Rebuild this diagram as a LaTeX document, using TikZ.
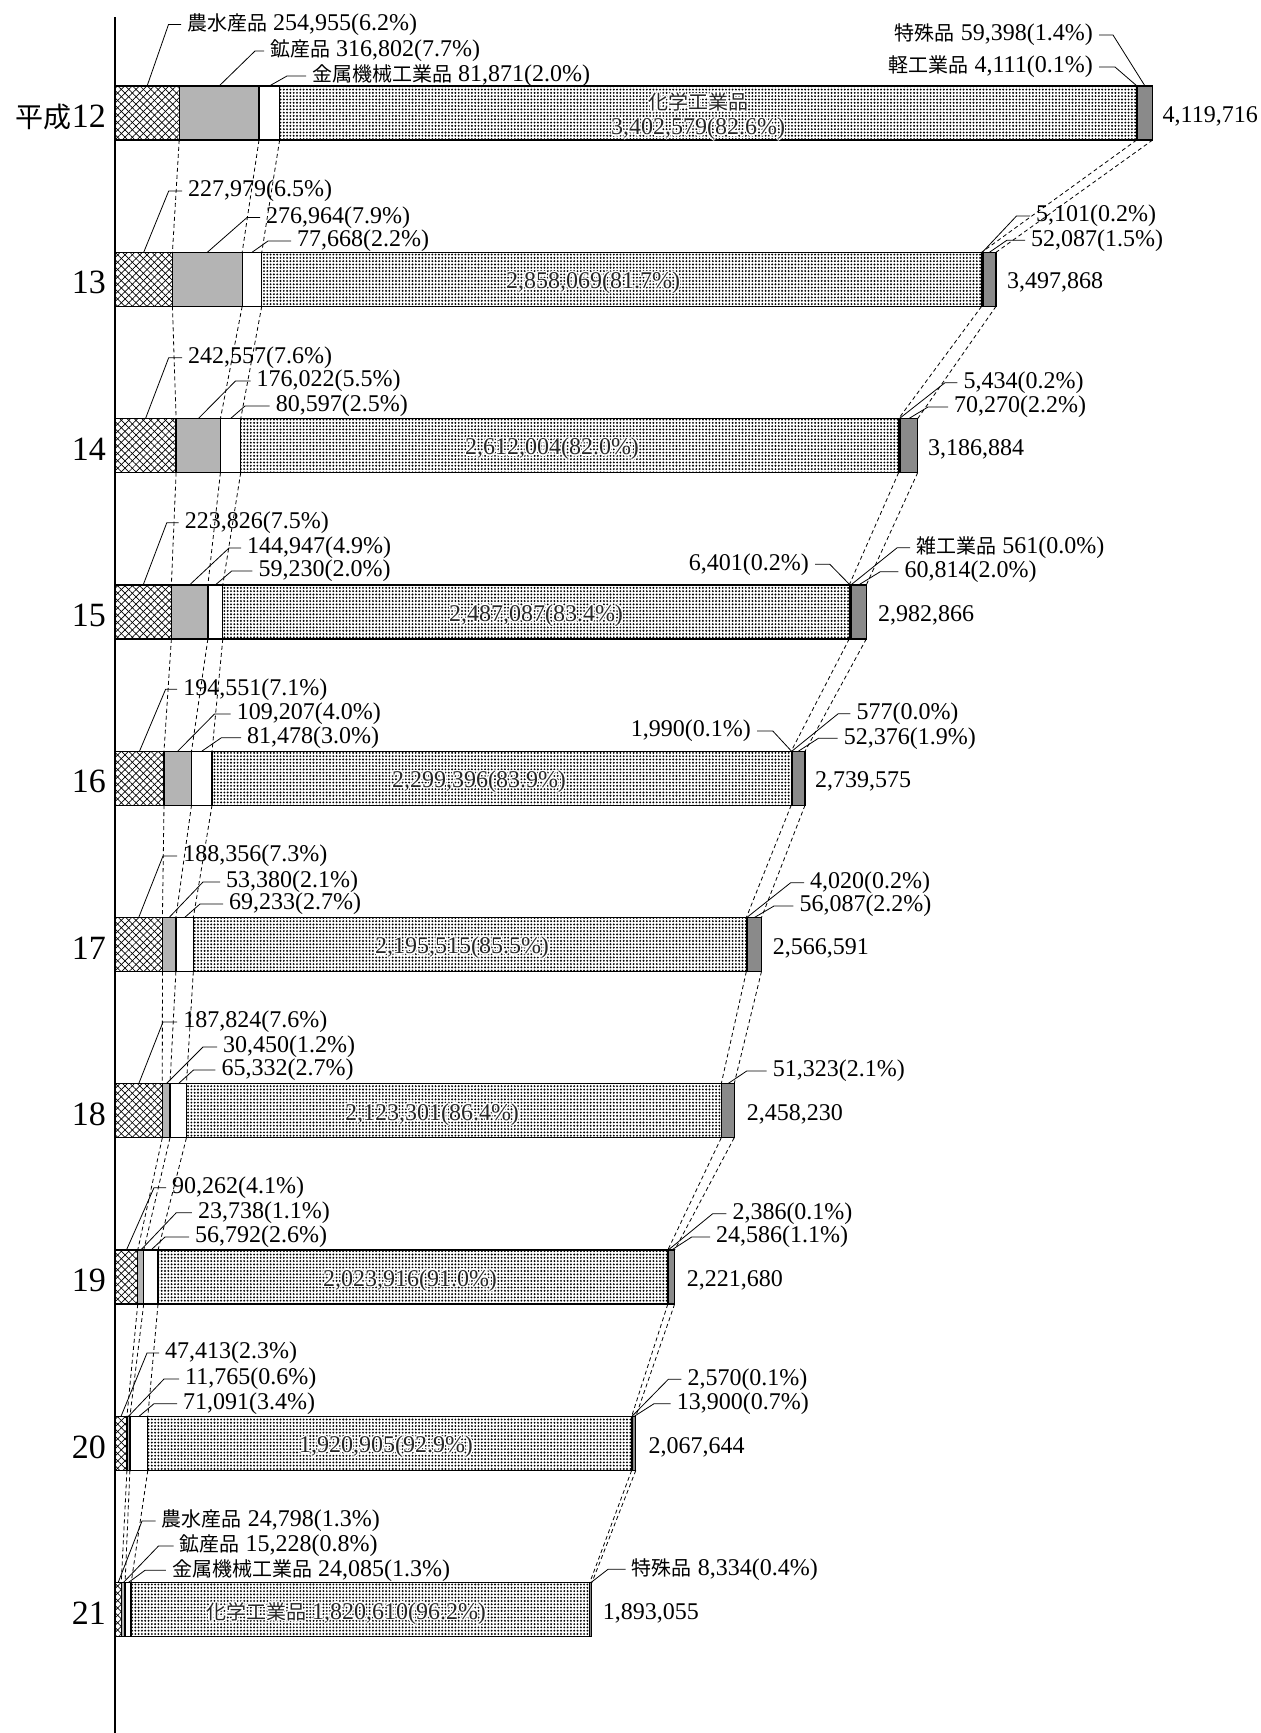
\documentclass[tikz,border=0pt]{standalone}
\usepackage{fontspec}
\setmainfont{Liberation Serif}
\newfontfamily\jp{Noto Sans CJK JP}
\usetikzlibrary{patterns.meta}
\definecolor{lgray}{HTML}{B4B4B4}
\definecolor{dgray}{HTML}{8A8A8A}
\tikzset{
  lab/.style={inner sep=0pt, font=\fontsize{24}{26}\selectfont},
  ctr/.style={yshift=-3.5pt},
  totlab/.style={lab, anchor=west, ctr},
  yrlab/.style={inner sep=0pt, anchor=east, ctr, font=\fontsize{34}{36}\selectfont},
  lead/.style={line width=0.8pt},
  link/.style={line width=0.8pt, dash pattern=on 4pt off 3pt},
  segline/.style={line width=1.3pt},
  inner/.style={lab, ctr, text=black!85},
  halo/.style={lab, ctr, text=white},
}
\newcommand\JP[1]{{\jp\fontsize{20}{22}\selectfont #1}}
\newcommand\JPy[1]{{\jp\fontsize{28}{30}\selectfont #1}}
% id, T, b1, b2, b3, b4, darkstart, end (thousands)
\newcommand\mkbar[8]{%
 \pgfmathsetmacro\xa{115+0.25187*#3}%
 \pgfmathsetmacro\xb{115+0.25187*#4}%
 \pgfmathsetmacro\xc{115+0.25187*#5}%
 \pgfmathsetmacro\xd{115+0.25187*#6}%
 \pgfmathsetmacro\xe{115+0.25187*#7}%
 \pgfmathsetmacro\xf{115+0.25187*#8}%
 \pgfmathsetmacro\yb{#2+54}%
 \coordinate (#1-0t) at (115,#2);
 \coordinate (#1-1t) at (\xa,#2); \coordinate (#1-1b) at (\xa,\yb);
 \coordinate (#1-2t) at (\xb,#2); \coordinate (#1-2b) at (\xb,\yb);
 \coordinate (#1-3t) at (\xc,#2); \coordinate (#1-3b) at (\xc,\yb);
 \coordinate (#1-4t) at (\xd,#2); \coordinate (#1-4b) at (\xd,\yb);
 \coordinate (#1-5t) at (\xf,#2); \coordinate (#1-5b) at (\xf,\yb);
 \fill[pattern={Lines[angle=45,distance=5.2pt,line width=0.7pt]}] (115,#2) rectangle (\xa,\yb);
 \fill[pattern={Lines[angle=-45,distance=5.2pt,line width=0.7pt]}] (115,#2) rectangle (\xa,\yb);
 \fill[lgray] (\xa,#2) rectangle (\xb,\yb);
 \fill[white] (\xb,#2) rectangle (\xc,\yb);
 \fill[pattern={Dots[distance=3.3pt,radius=1.05pt]}] (\xc,#2) rectangle (\xd,\yb);
 \fill[dgray] (\xe,#2) rectangle (\xf,\yb);
 \draw[segline] (\xa,#2) -- (\xa,\yb) (\xb,#2) -- (\xb,\yb) (\xc,#2) -- (\xc,\yb)
   (\xd,#2) -- (\xd,\yb) (\xe,#2) -- (\xe,\yb);
 \draw[segline] (115,#2) rectangle (\xf,\yb);
}
% name, segx, T, kneex, row, textx, text
\newcommand\Llab[7]{%
 \node[lab, anchor=west] (#1) at (#6,#5) {#7};
 \coordinate (#1-s) at (#2,#3);
 \coordinate (#1-k) at (#4,#5);
 \draw[lead] (#1-s) -- (#1-k) -- ([xshift=-6pt]#1.west);
}
\newcommand\Rlab[7]{%
 \node[lab, anchor=east] (#1) at (#6,#5) {#7};
 \coordinate (#1-s) at (#2,#3);
 \coordinate (#1-k) at (#4,#5);
 \draw[lead] (#1-s) -- (#1-k) -- ([xshift=6pt]#1.east);
}
% name, x, y, text
\newcommand\inlab[4]{%
 \foreach \dx/\dy in {1.4/0,-1.4/0,0/1.4,0/-1.4,1/1,-1/1,1/-1,-1/-1}
   \node[halo, align=center] at ([shift={(\dx pt,\dy pt)}]#2,#3) {#4};
 \node[inner, align=center] (#1) at (#2,#3) {#4};
}
\begin{document}
\begin{tikzpicture}[x=1pt,y=-1pt]
\useasboundingbox (0,0) rectangle (1261,1733);

\mkbar{a}{86}{254.955}{571.757}{653.628}{4056.207}{4060.318}{4119.716}
\mkbar{b}{252.3}{227.979}{504.943}{582.611}{3440.680}{3445.781}{3497.868}
\mkbar{c}{418.6}{242.557}{418.579}{499.176}{3111.180}{3116.614}{3186.884}
\mkbar{d}{584.9}{223.826}{368.773}{428.003}{2915.090}{2922.052}{2982.866}
\mkbar{e}{751.2}{194.551}{303.758}{385.236}{2684.632}{2687.199}{2739.575}
\mkbar{f}{917.5}{188.356}{241.736}{310.969}{2506.484}{2510.504}{2566.591}
\mkbar{g}{1083.8}{187.824}{218.274}{283.606}{2406.907}{2406.907}{2458.230}
\mkbar{h}{1250.1}{90.262}{114.000}{170.792}{2194.708}{2197.094}{2221.680}
\mkbar{i}{1416.4}{47.413}{59.178}{130.269}{2051.174}{2053.744}{2067.644}
\mkbar{j}{1582.7}{24.798}{40.026}{64.111}{1884.721}{1884.721}{1893.055}

\foreach \p/\q in {a/b,b/c,c/d,d/e,e/f,f/g,g/h,h/i,i/j}
  \foreach \k in {1,2,3,4,5}
    \draw[link] (\p-\k b) -- (\q-\k t);

% axis
\coordinate (axtop) at (115,17);
\coordinate (axbot) at (115,1733);
\draw[line width=2.2pt] (axtop) -- (axbot);

% year labels
\node[yrlab] (ay) at (106,113) {\JPy{平成}12};
\node[yrlab] (by) at (106,279.3) {13};
\node[yrlab] (cy) at (106,445.6) {14};
\node[yrlab] (dy) at (106,611.9) {15};
\node[yrlab] (ey) at (106,778.2) {16};
\node[yrlab] (fy) at (106,944.5) {17};
\node[yrlab] (gy) at (106,1110.8) {18};
\node[yrlab] (hy) at (106,1277.1) {19};
\node[yrlab] (iy) at (106,1443.4) {20};
\node[yrlab] (jy) at (106,1609.7) {21};

% H12
\Llab{a1}{147.1}{86}{168.5}{24.5}{187}{\JP{農水産品} 254,955(6.2\%)}
\Llab{a2}{219.1}{86}{255}{51}{270}{\JP{鉱産品} 316,802(7.7\%)}
\Llab{a3}{269.3}{86}{287}{76}{312}{\JP{金属機械工業品} 81,871(2.0\%)}
\Rlab{a4}{1145}{86}{1113}{35}{1093}{\JP{特殊品} 59,398(1.4\%)}
\Rlab{a5}{1137}{86}{1115}{67}{1093}{\JP{軽工業品} 4,111(0.1\%)}
\node[totlab] (atot) at (1162.5,113) {4,119,716};
\inlab{ain}{698}{113}{\JP{化学工業品}\\[-1pt]3,402,579(82.6\%)}

% H13
\Llab{b1}{143.7}{252.3}{168.7}{191}{188}{227,979(6.5\%)}
\Llab{b2}{207.3}{252.3}{247}{217.5}{266}{276,964(7.9\%)}
\Llab{b3}{252}{252.3}{268}{241}{297}{77,668(2.2\%)}
\Llab{b4}{982.3}{252.3}{1016.5}{216}{1036}{5,101(0.2\%)}
\Llab{b5}{989.4}{252.3}{1006.8}{240.3}{1031}{52,087(1.5\%)}
\node[totlab] (btot) at (1007,279.3) {3,497,868};
\inlab{bin}{593}{279.3}{2,858,069(81.7\%)}

% H14
\Llab{c1}{145.5}{418.6}{168.7}{357.7}{188}{242,557(7.6\%)}
\Llab{c2}{198.3}{418.6}{235.5}{381}{256.5}{176,022(5.5\%)}
\Llab{c3}{230.5}{418.6}{245}{406}{275.6}{80,597(2.5\%)}
\Llab{c4}{899.3}{418.6}{945}{382.7}{963.4}{5,434(0.2\%)}
\Llab{c5}{908.8}{418.6}{928}{407}{954}{70,270(2.2\%)}
\node[totlab] (ctot) at (928,445.6) {3,186,884};
\inlab{cin}{552}{445.6}{2,612,004(82.0\%)}

% H15
\Llab{d1}{143.2}{584.9}{166.8}{522.7}{184.7}{223,826(7.5\%)}
\Llab{d2}{189.6}{584.9}{229}{548}{247}{144,947(4.9\%)}
\Llab{d3}{215.4}{584.9}{231.7}{571}{258.4}{59,230(2.0\%)}
\Rlab{d4}{850}{584.9}{829.8}{564.3}{809}{6,401(0.2\%)}
\Llab{d5}{850.9}{584.9}{897.2}{547.7}{916.2}{\JP{雑工業品} 561(0.0\%)}
\Llab{d6}{858.7}{584.9}{880.3}{571.7}{904.4}{60,814(2.0\%)}
\node[totlab] (dtot) at (878,611.9) {2,982,866};
\inlab{din}{536}{611.9}{2,487,087(83.4\%)}

% H16
\Llab{e1}{139.5}{751.2}{165.6}{689.3}{183.2}{194,551(7.1\%)}
\Llab{e2}{177.7}{751.2}{214.5}{714}{236.6}{109,207(4.0\%)}
\Llab{e3}{201.8}{751.2}{221.4}{737.7}{247}{81,478(3.0\%)}
\Rlab{e4}{791.5}{751.2}{772.8}{731}{751}{1,990(0.1\%)}
\Llab{e5}{791.8}{751.2}{838.2}{713.7}{856.3}{577(0.0\%)}
\Llab{e6}{798.4}{751.2}{818.4}{738.3}{843.7}{52,376(1.9\%)}
\node[totlab] (etot) at (815,778.2) {2,739,575};
\inlab{ein}{479}{778.2}{2,299,396(83.9\%)}

% H17
\Llab{f1}{138.7}{917.5}{163}{856}{183.2}{188,356(7.3\%)}
\Llab{f2}{169.1}{917.5}{203}{882}{226}{53,380(2.1\%)}
\Llab{f3}{184.6}{917.5}{200}{904}{229}{69,233(2.7\%)}
\Llab{f4}{746.8}{917.5}{790.7}{882.7}{810}{4,020(0.2\%)}
\Llab{f5}{754.4}{917.5}{774}{906}{799.3}{56,087(2.2\%)}
\node[totlab] (ftot) at (772.7,944.5) {2,566,591};
\inlab{fin}{462}{944.5}{2,195,515(85.5\%)}

% H18
\Llab{g1}{138.7}{1083.8}{163}{1022}{183.2}{187,824(7.6\%)}
\Llab{g2}{166.2}{1083.8}{203}{1047}{223}{30,450(1.2\%)}
\Llab{g3}{178.2}{1083.8}{193.5}{1070}{221.4}{65,332(2.7\%)}
\Llab{g4}{727.7}{1083.8}{746.7}{1071}{772.7}{51,323(2.1\%)}
\node[totlab] (gtot) at (746.7,1110.8) {2,458,230};
\inlab{gin}{432}{1110.8}{2,123,301(86.4\%)}

% H19
\Llab{h1}{126.4}{1250.1}{154}{1187.7}{172}{90,262(4.1\%)}
\Llab{h2}{140.7}{1250.1}{176.3}{1212.7}{197.8}{23,738(1.1\%)}
\Llab{h3}{150.9}{1250.1}{165}{1237}{195}{56,792(2.6\%)}
\Llab{h4}{668.1}{1250.1}{712.7}{1213.7}{732.3}{2,386(0.1\%)}
\Llab{h5}{671.5}{1250.1}{691.7}{1237}{716}{24,586(1.1\%)}
\node[totlab] (htot) at (686.7,1277.1) {2,221,680};
\inlab{hin}{410}{1277.1}{2,023,916(91.0\%)}

% H20
\Llab{i1}{121}{1416.4}{147}{1353}{165}{47,413(2.3\%)}
\Llab{i2}{128.4}{1416.4}{164}{1379}{185}{11,765(0.6\%)}
\Llab{i3}{138.9}{1416.4}{154}{1403.7}{183}{71,091(3.4\%)}
\Llab{i4}{631.9}{1416.4}{668.3}{1379.3}{687.3}{2,570(0.1\%)}
\Llab{i5}{634.1}{1416.4}{654}{1403.7}{676.7}{13,900(0.7\%)}
\node[totlab] (itot) at (648.3,1443.4) {2,067,644};
\inlab{iin}{386}{1443.4}{1,920,905(92.9\%)}

% H21
\Llab{j1}{118.1}{1582.7}{142}{1521}{161.6}{\JP{農水産品} 24,798(1.3\%)}
\Llab{j2}{123.2}{1582.7}{158.5}{1546}{179.5}{\JP{鉱産品} 15,228(0.8\%)}
\Llab{j3}{128.1}{1582.7}{145}{1570.3}{171.9}{\JP{金属機械工業品} 24,085(1.3\%)}
\Llab{j4}{590.7}{1582.7}{608}{1569.3}{631.7}{\JP{特殊品} 8,334(0.4\%)}
\node[totlab] (jtot) at (602.7,1609.7) {1,893,055};
\inlab{jin}{346}{1609.7}{\JP{化学工業品} 1,820,610(96.2\%)}
\end{tikzpicture}
\end{document}
